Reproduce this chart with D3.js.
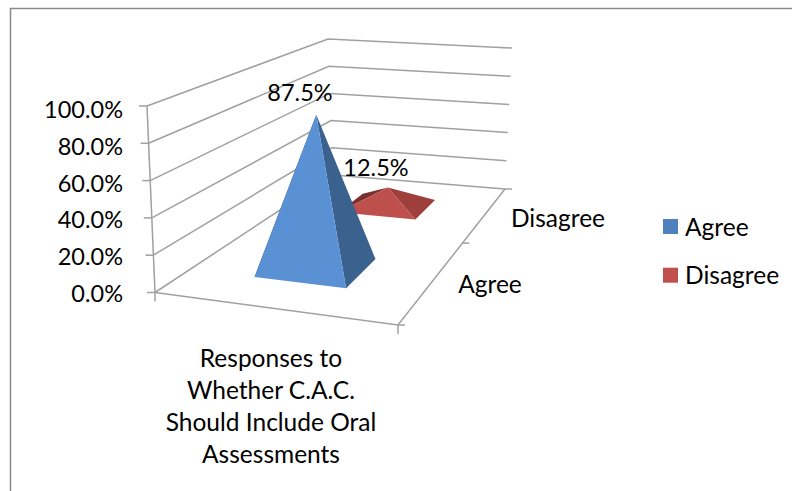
<!DOCTYPE html>
<html>
<head>
<meta charset="utf-8">
<script src="https://cdn.jsdelivr.net/npm/d3@7"></script>
<style>
  html, body { margin: 0; padding: 0; background: #fff; }
  text { font-family: Lato, "Open Sans", sans-serif; fill: #000; }
</style>
</head>
<body>
<script>
var width = 792;
var height = 491;

var categories = ['Responses to Whether C.A.C. Should Include Oral Assessments'];
var categoryLines = ['Responses to', 'Whether C.A.C.', 'Should Include Oral', 'Assessments'];
var seriesNames = ['Agree', 'Disagree'];
var seriesValues = [87.5, 12.5];
var valueTicks = [0, 20, 40, 60, 80, 100];
var seriesColors = ['#4f81bd', '#c0504d'];
var faceColors = [
  {front: '#5a90d4', right: '#3b618f', left: '#2f4f75'},
  {front: '#bd4f4c', right: '#9e3f3c', left: '#7a302e'}
];

// pixel corners of the 3d box, floor and top plane (FL, FR, BR, BL)
var floorCorners = [[155, 292.5], [398, 325], [505, 189], [333, 175]];
var topCorners = [[147, 106], [408, 128], [512, 48], [328, 39]];

function homography(q) {
  var dx1 = q[1][0] - q[2][0], dx2 = q[3][0] - q[2][0], sx = q[0][0] - q[1][0] + q[2][0] - q[3][0];
  var dy1 = q[1][1] - q[2][1], dy2 = q[3][1] - q[2][1], sy = q[0][1] - q[1][1] + q[2][1] - q[3][1];
  var det = dx1 * dy2 - dx2 * dy1;
  var g = (sx * dy2 - dx2 * sy) / det;
  var h = (dx1 * sy - sx * dy1) / det;
  var a = q[1][0] - q[0][0] + g * q[1][0], b = q[3][0] - q[0][0] + h * q[3][0];
  var d = q[1][1] - q[0][1] + g * q[1][1], e = q[3][1] - q[0][1] + h * q[3][1];
  return function(u, v) {
    var w = g * u + h * v + 1;
    return [(a * u + b * v + q[0][0]) / w, (d * u + e * v + q[0][1]) / w];
  };
}
var floorH = homography(floorCorners);
var topH = homography(topCorners);

var x = d3.scaleBand().domain(categories).range([0, 1]).paddingInner(0.6).paddingOuter(0.3).align(0.495);
var z = d3.scaleBand().domain(seriesNames).range([0, 1]).paddingInner(0.626).paddingOuter(0.313).align(0.463);
var y = d3.scaleLinear().domain([0, 100]).range([0, 1]);
var labelY = d3.scaleLinear().domain([0, 100]).range([293.5, 110]);

function project(u, d, value) {
  var a = floorH(u, d), b = topH(u, d), t = y(value);
  return [a[0] + (b[0] - a[0]) * t, a[1] + (b[1] - a[1]) * t];
}

var svg = d3.select('body').append('svg')
  .attr('width', width)
  .attr('height', height)
  .style('display', 'block');

var line = d3.line();
var gridColor = '#a0a0a0';

svg.append('path')
  .attr('d', 'M10.5,' + height + 'V8.5H' + width)
  .attr('fill', 'none')
  .attr('stroke', '#8a8a8a')
  .attr('stroke-width', 1.5);

// walls
var grid = svg.append('g').attr('fill', 'none').attr('stroke', gridColor).attr('stroke-width', 1.5);
grid.selectAll('.wall')
  .data(valueTicks)
  .enter()
  .append('path')
  .attr('class', 'wall')
  .attr('d', function(d) {
    return line([project(0, 0, d), project(0, 1, d), project(1, 1, d)]);
  });

// floor edges and axis lines
grid.append('path').attr('d', line([project(0, 0, 0), project(1, 0, 0), project(1, 1, 0)]));
grid.append('path').attr('d', line([project(0, 0, 0), project(0, 0, 100)]));

grid.selectAll('.vtick')
  .data(valueTicks)
  .enter()
  .append('path')
  .attr('class', 'vtick')
  .attr('d', function(d) {
    var p = project(0, 0, d);
    return line([p, [p[0] - 8, p[1]]]);
  });
grid.selectAll('.xtick')
  .data([0, 1])
  .enter()
  .append('path')
  .attr('class', 'xtick')
  .attr('d', function(d) {
    var p = project(d, 0, 0);
    return line([p, [p[0], p[1] + 9]]);
  });
grid.selectAll('.ztick')
  .data([0, 0.5, 1])
  .enter()
  .append('path')
  .attr('class', 'ztick')
  .attr('d', function(d) {
    var p = project(1, d, 0);
    return line([p, [p[0] + 7, p[1]]]);
  });

// pyramids, back one first
var order = d3.range(seriesNames.length).reverse();
order.forEach(function(i) {
  var x0 = x(categories[0]), x1 = x0 + x.bandwidth();
  var z0 = z(seriesNames[i]), z1 = z0 + z.bandwidth();
  var fl = project(x0, z0, 0), fr = project(x1, z0, 0), br = project(x1, z1, 0), bl = project(x0, z1, 0);
  var apex = project((x0 + x1) / 2, (z0 + z1) / 2, seriesValues[i]);
  var g = svg.append('g').attr('class', 'pyramid');
  g.append('path').attr('d', line([fl, bl, apex]) + 'Z').attr('fill', faceColors[i].left);
  g.append('path').attr('d', line([fr, br, apex]) + 'Z').attr('fill', faceColors[i].right);
  g.append('path').attr('d', line([fl, fr, apex]) + 'Z').attr('fill', faceColors[i].front);
});

var fontSize = 24.5;
var numberSize = 23.5;
var labels = svg.append('g').attr('font-size', fontSize);

labels.selectAll('.vlabel')
  .data(valueTicks)
  .enter()
  .append('text')
  .attr('class', 'vlabel')
  .attr('text-anchor', 'end')
  .attr('dy', '0.35em')
  .attr('font-size', numberSize)
  .attr('x', 123)
  .attr('y', function(d) { return labelY(d); })
  .text(function(d) { return d3.format('.1f')(d) + '%'; });

labels.selectAll('.dlabel')
  .data(seriesValues)
  .enter()
  .append('text')
  .attr('class', 'dlabel')
  .attr('text-anchor', 'middle')
  .attr('dy', '0.35em')
  .attr('font-size', numberSize)
  .attr('x', function(d, i) { return [300, 376][i]; })
  .attr('y', function(d, i) { return [93, 168][i]; })
  .text(function(d) { return d3.format('.1f')(d) + '%'; });

labels.selectAll('.zlabel')
  .data(seriesNames)
  .enter()
  .append('text')
  .attr('class', 'zlabel')
  .attr('text-anchor', 'middle')
  .attr('dy', '0.35em')
  .attr('x', function(d, i) { return [490, 558][i]; })
  .attr('y', function(d, i) { return [284, 218][i]; })
  .text(function(d) { return d; });

labels.selectAll('.clabel')
  .data(categoryLines)
  .enter()
  .append('text')
  .attr('class', 'clabel')
  .attr('text-anchor', 'middle')
  .attr('dy', '0.35em')
  .attr('x', 271)
  .attr('y', function(d, i) { return 358 + i * 32.3; })
  .text(function(d) { return d; });

var legend = svg.append('g').selectAll('g')
  .data(seriesNames)
  .enter()
  .append('g')
  .attr('transform', function(d, i) { return 'translate(663,' + (219 + i * 48.7) + ')'; });
legend.append('rect')
  .attr('width', 15)
  .attr('height', 15)
  .attr('fill', function(d, i) { return seriesColors[i]; });
legend.append('text')
  .attr('x', 22)
  .attr('y', 8)
  .attr('dy', '0.35em')
  .attr('font-size', fontSize)
  .text(function(d) { return d; });
</script>
</body>
</html>
